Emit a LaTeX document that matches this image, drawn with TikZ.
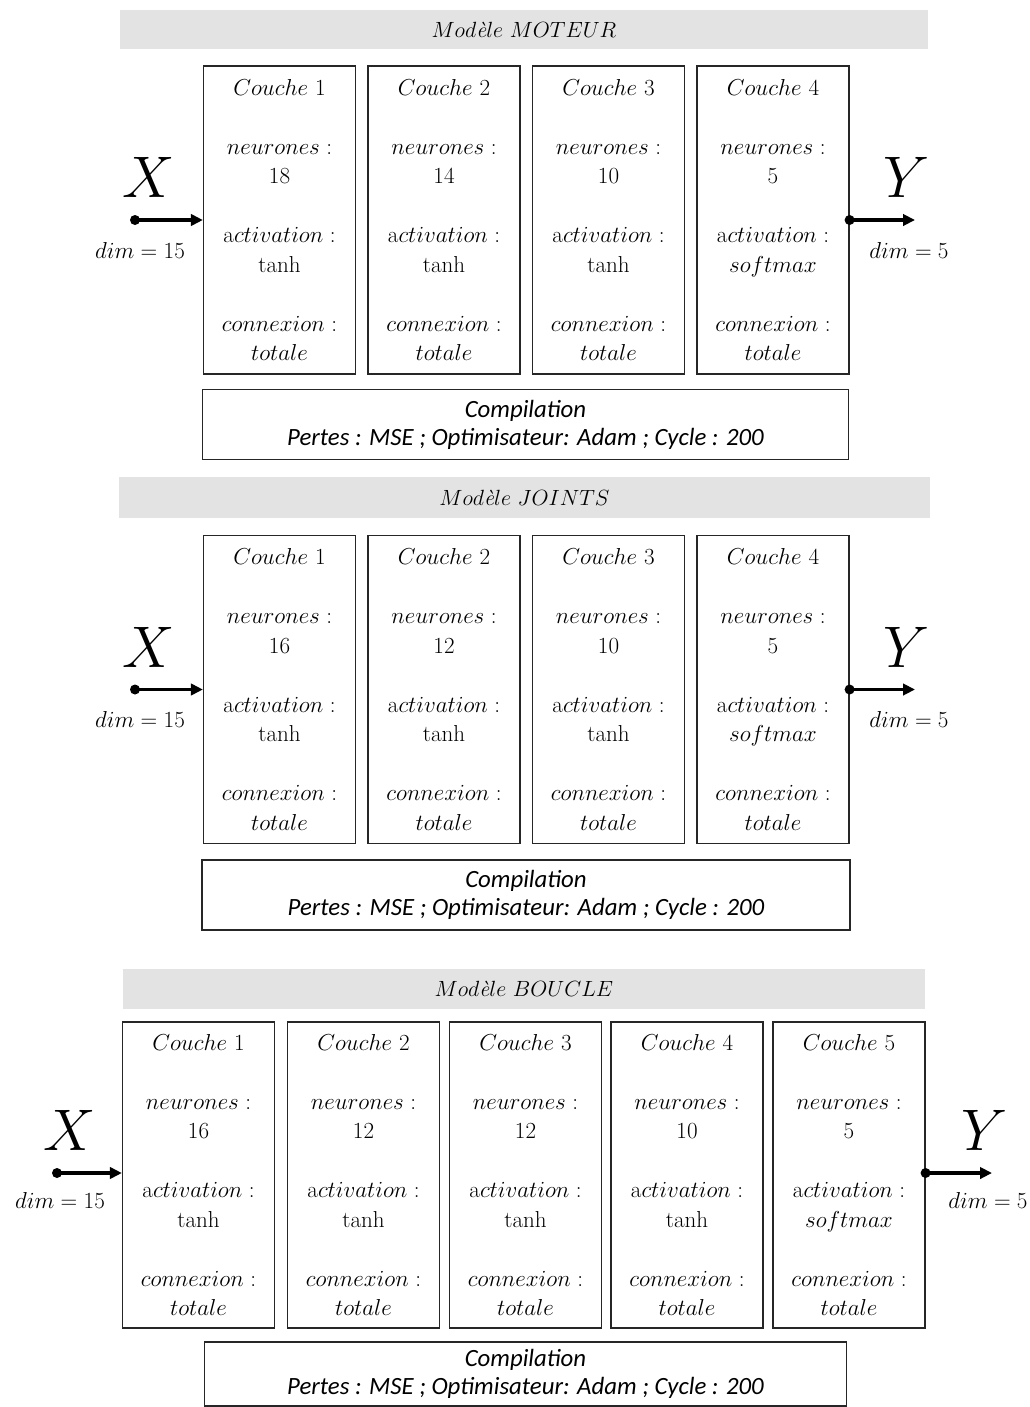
\RequirePackage{fix-cm}
\documentclass[tikz,border=0pt]{standalone}
\usepackage{fontspec}
\newfontfamily\calfont{Carlito}
\usetikzlibrary{arrows.meta}
\tikzset{
 layer/.style={draw=black!85,line width=0.9pt,minimum width=114pt,minimum height=231pt,inner sep=0pt,align=center,font=\fontsize{17.3}{22.1}\selectfont},
 compil/.style={draw=black!85,line width=0.9pt,minimum width=485pt,minimum height=52pt,inner sep=0pt,align=center,font=\calfont\itshape\fontsize{18.6}{21}\selectfont},
 band/.style={fill=black!11,minimum height=30pt,inner sep=0pt,font=\fontsize{16.5}{20}\selectfont},
 bigvar/.style={font=\fontsize{44}{44}\selectfont,inner sep=0pt},
 dimlab/.style={font=\fontsize{17.3}{20}\selectfont,inner sep=0pt},
 dotn/.style={circle,fill=black,inner sep=0pt,minimum size=7.5pt},
 arr/.style={line width=2.4pt,-{Triangle[length=9pt,width=8.5pt]}},
}
\newcommand{\laytext}[3]{$Couche$ #1\\~\\$neurones:$\\#2\\~\\$\mathrm{a}ctivation:$\\#3\\~\\$connexion:$\\$totale$}
\newcommand{\compiltext}{Compilation\\Pertes : MSE ; Optimisateur: Adam ; Cycle : 200}
\begin{document}
\begin{tikzpicture}[x=0.75pt,y=-0.75pt]
\useasboundingbox (0,0) rectangle (1030,1407);
% ---------- Section 1 ----------
\node[band,minimum width=606pt,minimum height=29.25pt] (t1) at (524,29.5) {$Mod$\textit{è}$le\ MOTEUR$};
\node[layer] (b11) at (279.5,220) {\laytext{1}{18}{tanh}};
\node[layer] (b12) at (444,220) {\laytext{2}{14}{tanh}};
\node[layer] (b13) at (608.5,220) {\laytext{3}{10}{tanh}};
\node[layer] (b14) at (773,220) {\laytext{4}{5}{$softmax$}};
\node[compil] (c1) at (525.5,424.5) {\compiltext};
\node[bigvar] (x1) at (149,177) {$X$};
\node[dotn] (xd1) at (135,220) {};
\draw[arr] (xd1.center) -- (xd1.center -| b11.west);
\node[dimlab] (xdim1) at (140,250) {$dim=15$};
\node[bigvar] (y1) at (907,177) {$Y$};
\node[dotn] (yd1) at (b14.east) {};
\coordinate (ye1) at (915,220);
\draw[arr] (yd1.center) -- (ye1);
\node[dimlab] (ydim1) at (909,250) {$dim=5$};
% ---------- Section 2 ----------
\node[band,minimum width=608pt,minimum height=30.75pt] (t2) at (524.5,497.5) {$Mod$\textit{è}$le\ JOINTS$};
\node[layer] (b21) at (279.5,689.5) {\laytext{1}{16}{tanh}};
\node[layer] (b22) at (444,689.5) {\laytext{2}{12}{tanh}};
\node[layer] (b23) at (608.5,689.5) {\laytext{3}{10}{tanh}};
\node[layer] (b24) at (773,689.5) {\laytext{4}{5}{$softmax$}};
\node[compil,minimum width=486pt,minimum height=52.5pt] (c2) at (526,895) {\compiltext};
\node[bigvar] (x2) at (149,647) {$X$};
\node[dotn] (xd2) at (135,689.5) {};
\draw[arr] (xd2.center) -- (xd2.center -| b21.west);
\node[dimlab] (xdim2) at (140,719) {$dim=15$};
\node[bigvar] (y2) at (907,647) {$Y$};
\node[dotn] (yd2) at (b24.east) {};
\coordinate (ye2) at (915,689.5);
\draw[arr] (yd2.center) -- (ye2);
\node[dimlab] (ydim2) at (909,719) {$dim=5$};
% ---------- Section 3 ----------
\node[band,minimum width=601.5pt,minimum height=30pt] (t3) at (524,989) {$Mod$\textit{è}$le\ BOUCLE$};
\node[layer,minimum height=229.5pt] (b31) at (198.5,1175) {\laytext{1}{16}{tanh}};
\node[layer,minimum height=229.5pt] (b32) at (363.5,1175) {\laytext{2}{12}{tanh}};
\node[layer,minimum height=229.5pt] (b33) at (525.5,1175) {\laytext{3}{12}{tanh}};
\node[layer,minimum height=229.5pt] (b34) at (687,1175) {\laytext{4}{10}{tanh}};
\node[layer,minimum height=229.5pt] (b35) at (849,1175) {\laytext{5}{5}{$softmax$}};
\node[compil,minimum width=481pt,minimum height=48pt] (c3) at (525.5,1374) {\compiltext};
\node[bigvar] (x3) at (70,1130) {$X$};
\node[dotn] (xd3) at (57,1173) {};
\draw[arr] (xd3.center) -- (xd3.center -| b31.west);
\node[dimlab] (xdim3) at (60,1200) {$dim=15$};
\node[bigvar] (y3) at (985,1130) {$Y$};
\node[dotn] (yd3) at (b35.east |- xd3) {};
\coordinate (ye3) at (992,1173);
\draw[arr] (yd3.center) -- (ye3);
\node[dimlab] (ydim3) at (988,1200) {$dim=5$};
\end{tikzpicture}
\end{document}
